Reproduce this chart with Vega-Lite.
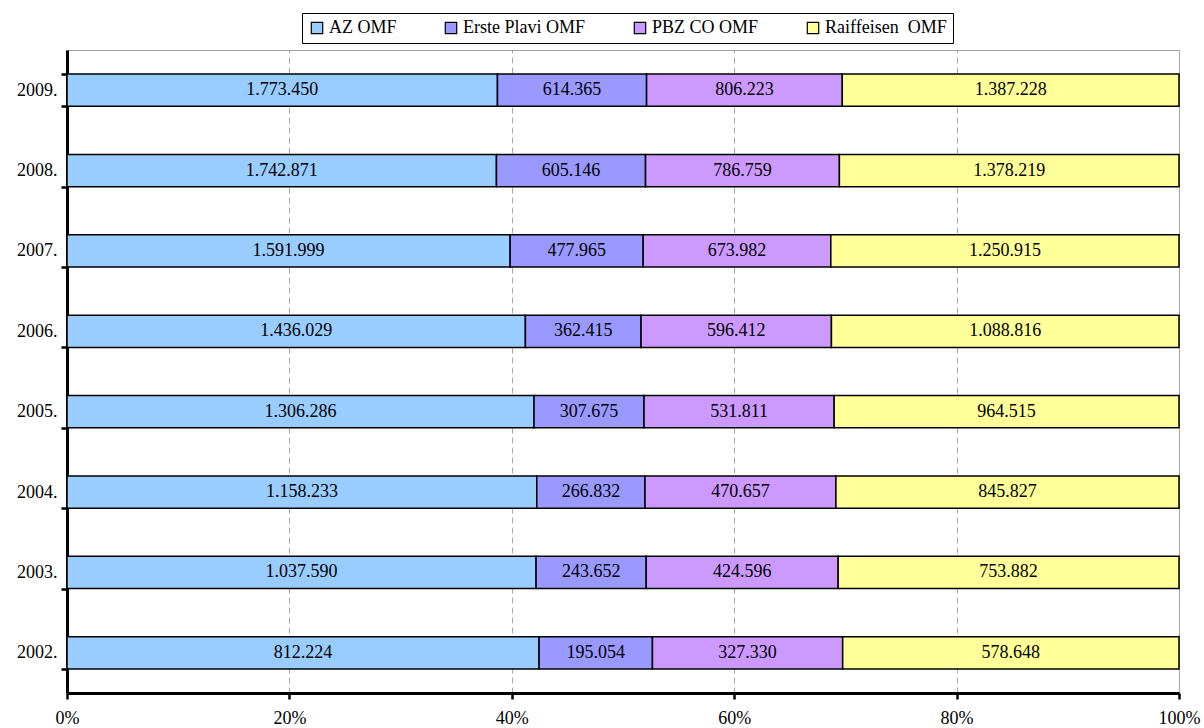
{
  "$schema": "https://vega.github.io/schema/vega-lite/v6.json",
  "width": 1112,
  "height": 643,
  "autosize": {"type": "none"},
  "padding": {"left": 67, "top": 50, "right": 25, "bottom": 35},
  "background": "white",
  "config": {
    "font": "Liberation Serif",
    "locale": {"number": {"decimal": ",", "thousands": ".", "grouping": [3], "currency": ["", " kn"]}},
    "view": {"stroke": "#a0a0a0", "strokeWidth": 1}
  },
  "data": {"values": [
    {"year": "2009", "company": "AZ OMF", "rank": 1, "v": 1773450},
    {"year": "2009", "company": "Erste Plavi OMF", "rank": 2, "v": 614365},
    {"year": "2009", "company": "PBZ CO OMF", "rank": 3, "v": 806223},
    {"year": "2009", "company": "Raiffeisen  OMF", "rank": 4, "v": 1387228},
    {"year": "2008", "company": "AZ OMF", "rank": 1, "v": 1742871},
    {"year": "2008", "company": "Erste Plavi OMF", "rank": 2, "v": 605146},
    {"year": "2008", "company": "PBZ CO OMF", "rank": 3, "v": 786759},
    {"year": "2008", "company": "Raiffeisen  OMF", "rank": 4, "v": 1378219},
    {"year": "2007", "company": "AZ OMF", "rank": 1, "v": 1591999},
    {"year": "2007", "company": "Erste Plavi OMF", "rank": 2, "v": 477965},
    {"year": "2007", "company": "PBZ CO OMF", "rank": 3, "v": 673982},
    {"year": "2007", "company": "Raiffeisen  OMF", "rank": 4, "v": 1250915},
    {"year": "2006", "company": "AZ OMF", "rank": 1, "v": 1436029},
    {"year": "2006", "company": "Erste Plavi OMF", "rank": 2, "v": 362415},
    {"year": "2006", "company": "PBZ CO OMF", "rank": 3, "v": 596412},
    {"year": "2006", "company": "Raiffeisen  OMF", "rank": 4, "v": 1088816},
    {"year": "2005", "company": "AZ OMF", "rank": 1, "v": 1306286},
    {"year": "2005", "company": "Erste Plavi OMF", "rank": 2, "v": 307675},
    {"year": "2005", "company": "PBZ CO OMF", "rank": 3, "v": 531811},
    {"year": "2005", "company": "Raiffeisen  OMF", "rank": 4, "v": 964515},
    {"year": "2004", "company": "AZ OMF", "rank": 1, "v": 1158233},
    {"year": "2004", "company": "Erste Plavi OMF", "rank": 2, "v": 266832},
    {"year": "2004", "company": "PBZ CO OMF", "rank": 3, "v": 470657},
    {"year": "2004", "company": "Raiffeisen  OMF", "rank": 4, "v": 845827},
    {"year": "2003", "company": "AZ OMF", "rank": 1, "v": 1037590},
    {"year": "2003", "company": "Erste Plavi OMF", "rank": 2, "v": 243652},
    {"year": "2003", "company": "PBZ CO OMF", "rank": 3, "v": 424596},
    {"year": "2003", "company": "Raiffeisen  OMF", "rank": 4, "v": 753882},
    {"year": "2002", "company": "AZ OMF", "rank": 1, "v": 812224},
    {"year": "2002", "company": "Erste Plavi OMF", "rank": 2, "v": 195054},
    {"year": "2002", "company": "PBZ CO OMF", "rank": 3, "v": 327330},
    {"year": "2002", "company": "Raiffeisen  OMF", "rank": 4, "v": 578648}
  ]},
  "encoding": {
    "y": {
      "field": "year", "type": "nominal", "sort": "descending",
      "scale": {"paddingInner": 0.6, "paddingOuter": 0.3},
      "axis": {
        "title": null,
        "labelExpr": "isValid(datum.value) ? datum.value + '.' : ''",
        "labelFont": "Liberation Serif", "labelFontSize": 18, "labelColor": "black",
        "labelPadding": 4,
        "domainColor": "black", "domainWidth": 3,
        "tickColor": "black", "tickWidth": 2.5, "tickSize": 6,
        "tickBand": "extent",
        "grid": false
      }
    }
  },
  "layer": [
    {
      "mark": {"type": "bar", "stroke": "black", "strokeWidth": 1.5},
      "encoding": {
        "x": {
          "aggregate": "sum", "field": "v", "type": "quantitative", "stack": "normalize",
          "scale": {"domain": [0, 1], "nice": false},
          "axis": {
            "title": null, "format": ".0%", "values": [0, 0.2, 0.4, 0.6, 0.8, 1],
            "labelFont": "Liberation Serif", "labelFontSize": 18, "labelColor": "black",
            "labelPadding": 10, "labelFlush": false,
            "domainColor": "black", "domainWidth": 3,
            "tickColor": "black", "tickWidth": 2.5, "tickSize": 6,
            "grid": true, "gridColor": "#a8a8a8", "gridDash": [6, 4], "gridWidth": 1
          }
        },
        "color": {
          "field": "company", "type": "nominal",
          "scale": {
            "domain": ["AZ OMF", "Erste Plavi OMF", "PBZ CO OMF", "Raiffeisen  OMF"],
            "range": ["#99CCFF", "#9999FF", "#CC99FF", "#FFFF99"]
          },
          "legend": {
            "title": null, "orient": "none", "direction": "horizontal", "columns": 4,
            "legendX": 235, "legendY": -37,
            "symbolType": "square", "symbolSize": 130, "symbolStrokeColor": "black", "symbolStrokeWidth": 1.2,
            "labelFont": "Liberation Serif", "labelFontSize": 18, "labelColor": "black",
            "labelExpr": "replace(datum.label, '  ', '\u00a0 ')",
            "labelOffset": 3, "columnPadding": 45, "padding": 6,
            "strokeColor": "black", "fillColor": "white"
          }
        },
        "order": {"field": "rank", "type": "quantitative", "sort": "ascending"}
      }
    },
    {
      "transform": [
        {"stack": "v", "groupby": ["year"], "sort": [{"field": "rank", "order": "ascending"}], "offset": "normalize", "as": ["x0", "x1"]},
        {"fold": ["x0", "x1"], "as": ["k", "pos"]},
        {"aggregate": [{"op": "mean", "field": "pos", "as": "mid"}], "groupby": ["year", "company", "v"]}
      ],
      "mark": {"type": "text", "font": "Liberation Serif", "fontSize": 18, "color": "black", "baseline": "middle", "align": "center"},
      "encoding": {
        "x": {"field": "mid", "type": "quantitative"},
        "text": {"field": "v", "type": "quantitative", "format": ",.0f"}
      }
    }
  ]
}
